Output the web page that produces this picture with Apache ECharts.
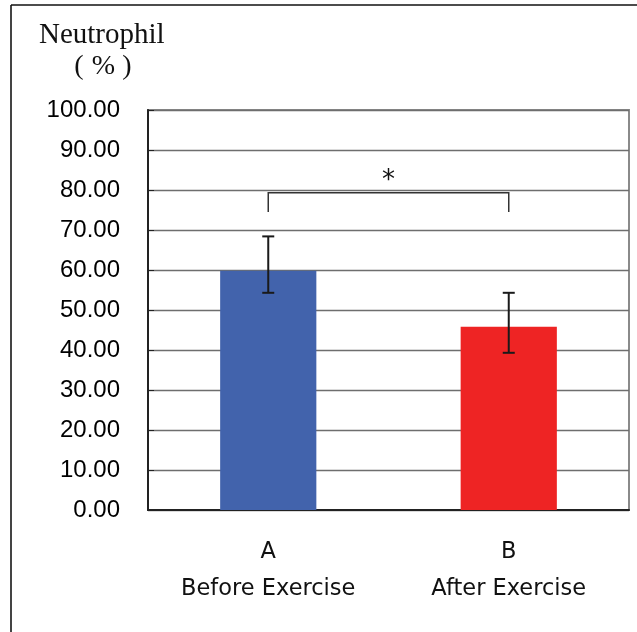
<!DOCTYPE html>
<html>
<head>
<meta charset="utf-8">
<script src="https://cdn.jsdelivr.net/npm/echarts@6/dist/echarts.min.js"></script>
<style>
  html, body { margin: 0; padding: 0; background: #fff; }
  #chart { width: 637px; height: 632px; }
</style>
</head>
<body>
<div id="chart"></div>
<script>
// Neutrophil percentage before and after exercise
const categories = ['A\nBefore Exercise', 'B\nAfter Exercise'];
const means = [59.8, 45.8];
const errHigh = [68.4, 54.3];
const errLow = [54.3, 39.3];
const barColors = ['#4263AC', '#EE2424'];
// significance bracket between the two groups: [from, to, top, leg end]
const bracket = [[0, 1, 79.3, 74.5]];
const sigMark = '*';

const chart = echarts.init(document.getElementById('chart'), null, { renderer: 'canvas' });

const unitFont = '"Liberation Serif", serif';

const option = {
  animation: false,
  backgroundColor: '#fff',
  grid: {
    left: 148, right: 8, top: 110, bottom: 122,
    show: true, borderColor: '#8a8a8a', borderWidth: 2, backgroundColor: 'transparent'
  },
  graphic: [
    { type: 'line', shape: { x1: 11, y1: 5, x2: 11, y2: 632 }, style: { stroke: '#444', lineWidth: 2 } },
    { type: 'line', shape: { x1: 11, y1: 5, x2: 637, y2: 5 }, style: { stroke: '#111', lineWidth: 1.5 } },
    { type: 'text', left: 39, top: 21, style: { text: 'Neutrophil', font: '29px "Liberation Serif", serif', fill: '#111' } },
    // unit line: "( % )"
    { type: 'text', x: 79, y: 67, style: { text: '(', align: 'center', verticalAlign: 'middle', font: '28px ' + unitFont, fill: '#111' } },
    { type: 'text', x: 103.5, y: 67, style: { text: '%', align: 'center', verticalAlign: 'middle', font: '28px ' + unitFont, fill: '#111' } },
    { type: 'text', x: 127, y: 67, style: { text: ')', align: 'center', verticalAlign: 'middle', font: '28px ' + unitFont, fill: '#111' } }
  ],
  xAxis: {
    type: 'category',
    data: categories,
    boundaryGap: true,
    axisLine: { lineStyle: { color: '#222', width: 2 } },
    axisTick: { inside: true, length: 8, lineStyle: { color: '#222', width: 1 } },
    axisLabel: {
      margin: 24,
      color: '#111',
      fontSize: 22.5,
      lineHeight: 37,
      fontFamily: '"DejaVu Sans", sans-serif'
    }
  },
  yAxis: {
    type: 'value',
    min: 0, max: 100, interval: 10,
    axisLine: { show: true, lineStyle: { color: '#222', width: 2 } },
    axisTick: { show: true, inside: true, length: 6, lineStyle: { color: '#222' } },
    splitLine: { lineStyle: { color: '#6e6e6e', width: 1.3 } },
    axisLabel: {
      margin: 28,
      color: '#000',
      fontSize: 24,
      fontFamily: '"Liberation Sans", Arial, sans-serif',
      formatter: v => v.toFixed(2)
    }
  },
  series: [
    {
      type: 'bar',
      barWidth: '40%',
      data: means.map((v, i) => ({ value: v, itemStyle: { color: barColors[i] } })),
      z: 2
    },
    {
      type: 'custom',
      z: 5,
      data: means.map((v, i) => [i, errLow[i], errHigh[i]]),
      renderItem: (params, api) => {
        const lo = api.coord([api.value(0), api.value(1)]);
        const hi = api.coord([api.value(0), api.value(2)]);
        const cap = 6;
        const st = { stroke: '#1a1a1a', lineWidth: 2 };
        return {
          type: 'group',
          children: [
            { type: 'line', shape: { x1: hi[0], y1: hi[1], x2: lo[0], y2: lo[1] }, style: st },
            { type: 'line', shape: { x1: hi[0] - cap, y1: hi[1], x2: hi[0] + cap, y2: hi[1] }, style: st },
            { type: 'line', shape: { x1: lo[0] - cap, y1: lo[1], x2: lo[0] + cap, y2: lo[1] }, style: st }
          ]
        };
      }
    },
    {
      type: 'custom',
      z: 5,
      data: bracket,
      renderItem: (params, api) => {
        const a = api.coord([api.value(0), api.value(2)]);
        const b = api.coord([api.value(1), api.value(2)]);
        const aEnd = api.coord([api.value(0), api.value(3)]);
        const bEnd = api.coord([api.value(1), api.value(3)]);
        const st = { stroke: '#333', lineWidth: 1.5, fill: null };
        return {
          type: 'group',
          children: [
            { type: 'polyline', shape: { points: [[aEnd[0], aEnd[1]], [a[0], a[1]], [b[0], b[1]], [bEnd[0], bEnd[1]]] }, style: st },
            { type: 'text', style: {
                text: sigMark, x: (a[0] + b[0]) / 2, y: a[1] + 1,
                align: 'center', verticalAlign: 'bottom',
                font: '26px "DejaVu Sans", sans-serif', fill: '#111'
            } }
          ]
        };
      }
    }
  ]
};

chart.setOption(option);
</script>
</body>
</html>
